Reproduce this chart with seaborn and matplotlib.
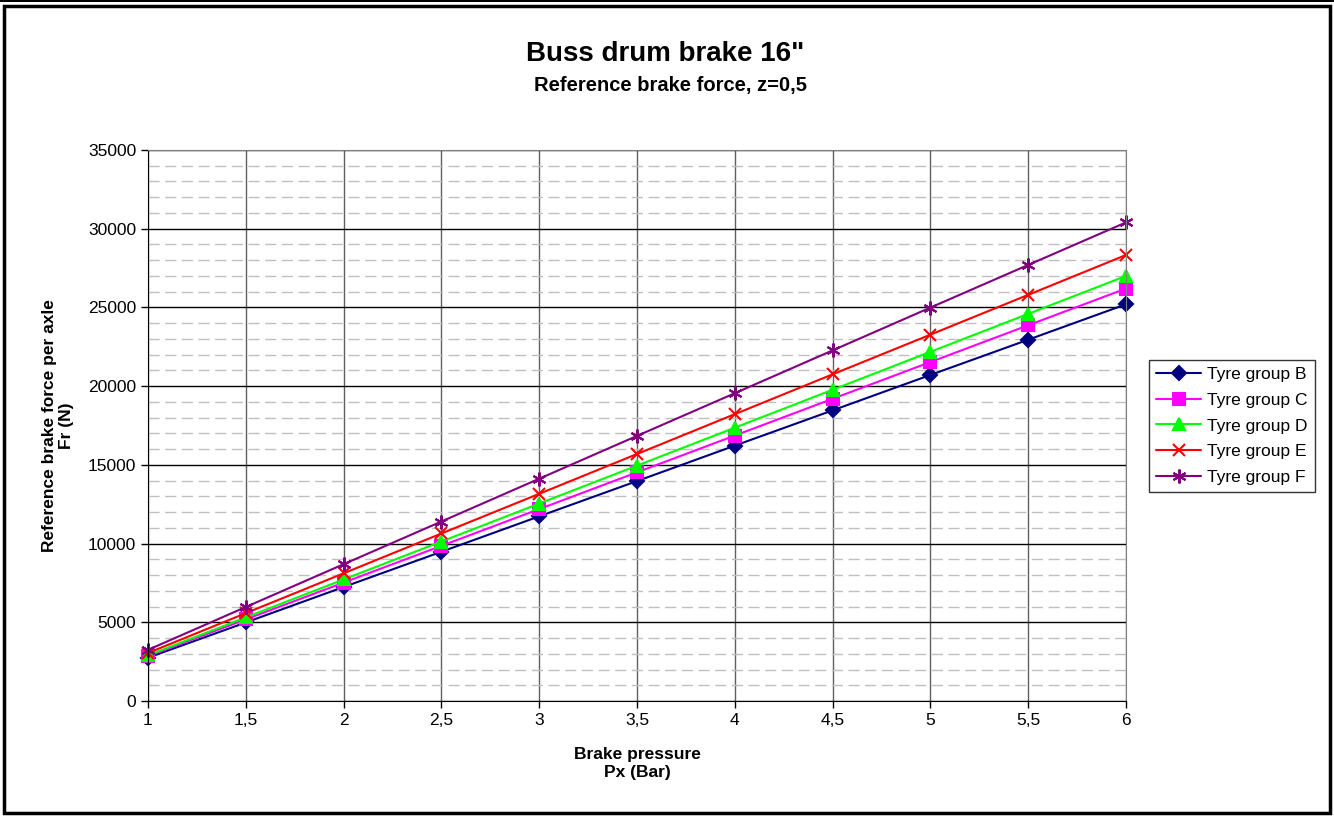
import numpy as np
import pandas as pd
import matplotlib
matplotlib.use("Agg")
import matplotlib.pyplot as plt
from matplotlib.patches import Rectangle
from matplotlib.ticker import MultipleLocator, FuncFormatter
import seaborn as sns

# values
pressure = [1, 1.5, 2, 2.5, 3, 3.5, 4, 4.5, 5, 5.5, 6]
group_b = [2750, 4990, 7240, 9480, 11730, 13970, 16220, 18460, 20710, 22950, 25200]
group_c = [2850, 5185, 7520, 9855, 12190, 14525, 16860, 19195, 21530, 23865, 26200]
group_d = [2900, 5310, 7720, 10130, 12540, 14950, 17360, 19770, 22180, 24590, 27000]
group_e = [3050, 5580, 8110, 10640, 13160, 15690, 18220, 20750, 23270, 25800, 28330]
group_f = [3250, 5970, 8690, 11400, 14120, 16840, 19550, 22270, 24990, 27700, 30400]
groups = ["Tyre group B", "Tyre group C", "Tyre group D", "Tyre group E", "Tyre group F"]

series = [group_b, group_c, group_d, group_e, group_f]
df = pd.concat([pd.DataFrame({"Px": pressure, "Fr": s, "group": g}) for g, s in zip(groups, series)])

colors = ["#000080", "#FF00FF", "#00FF00", "#FF0000", "#800080"]
markers = ["D", "s", "^", "x", (6, 2, 0)]
sizes = [7, 8, 9, 9, 10]

sns.set_style("white")
plt.rcParams["font.family"] = ["Liberation Sans", "DejaVu Sans"]
plt.rcParams["text.color"] = "black"
plt.rcParams["axes.labelcolor"] = "black"
plt.rcParams["xtick.color"] = "black"
plt.rcParams["ytick.color"] = "black"

fig = plt.figure(figsize=(13.34, 8.16), dpi=100)
ax = fig.add_axes([148 / 1334, 1 - 701 / 816, (1126 - 148) / 1334, (701 - 150) / 816])

sns.lineplot(data=df, x="Px", y="Fr", hue="group", palette=colors, ax=ax, legend=False,
             linewidth=1.5)
for line, m, ms, c in zip(ax.lines, markers, sizes, colors):
    line.set_marker(m)
    line.set_markersize(ms)
    line.set_markeredgecolor(c)
    line.set_markerfacecolor(c)
    line.set_markeredgewidth(1.5)
    line.set_clip_on(False)

ax.set_xlim(1, 6)
ax.set_ylim(0, 35000)
ax.xaxis.set_major_locator(MultipleLocator(0.5))
ax.yaxis.set_major_locator(MultipleLocator(5000))
ax.yaxis.set_minor_locator(MultipleLocator(1000))
ax.xaxis.set_major_formatter(FuncFormatter(lambda v, p: f"{v:g}".replace(".", ",")))
ax.grid(which="minor", axis="y", color="#c0c0c0", linestyle=(0, (8, 4)), linewidth=1)
ax.grid(which="major", axis="y", color="black", linewidth=1)
ax.grid(which="major", axis="x", color="#606060", linewidth=1)
ax.set_axisbelow(True)
ax.tick_params(axis="both", which="major", direction="out", length=5, width=1, labelsize=12.5,
               color="black", bottom=True, left=True)
ax.tick_params(axis="y", which="minor", left=False)
for side in ["top", "right"]:
    ax.spines[side].set_color("#808080")
for side in ["left", "bottom"]:
    ax.spines[side].set_color("black")

ax.set_xlabel("Brake pressure\nPx (Bar)", fontsize=12.5, fontweight="bold", labelpad=14)
ax.set_ylabel("Reference brake force per axle\nFr (N)", fontsize=12.5, fontweight="bold", labelpad=10)

fig.text(665 / 1334, 1 - 54 / 816, 'Buss drum brake 16"', fontsize=20, fontweight="bold",
         ha="center", va="center")
fig.text(670 / 1334, 1 - 86 / 816, "Reference brake force, z=0,5", fontsize=14.5, fontweight="bold",
         ha="center", va="center")

handles = [plt.Line2D([], [], color=c, marker=m, markersize=ms, markeredgewidth=1.5, linewidth=1.5)
           for c, m, ms in zip(colors, markers, sizes)]
leg = fig.legend(handles, groups, loc="center left", bbox_to_anchor=(1149 / 1334, 1 - 426 / 816),
                 fontsize=12.5, frameon=True, fancybox=False, edgecolor="black", handlelength=2.6,
                 borderpad=0.4, labelspacing=0.62, handletextpad=0.35, borderaxespad=0)
leg.get_frame().set_linewidth(1)

fig.patches.append(Rectangle((4 / 1334, 3 / 816), 1326 / 1334, 807 / 816, transform=fig.transFigure,
                             fill=False, edgecolor="black", linewidth=2.5))
fig.patches.append(Rectangle((0, 1 - 2 / 816), 1, 2 / 816, transform=fig.transFigure,
                             facecolor="black", edgecolor="none"))

fig.savefig("out.png", dpi=100)
